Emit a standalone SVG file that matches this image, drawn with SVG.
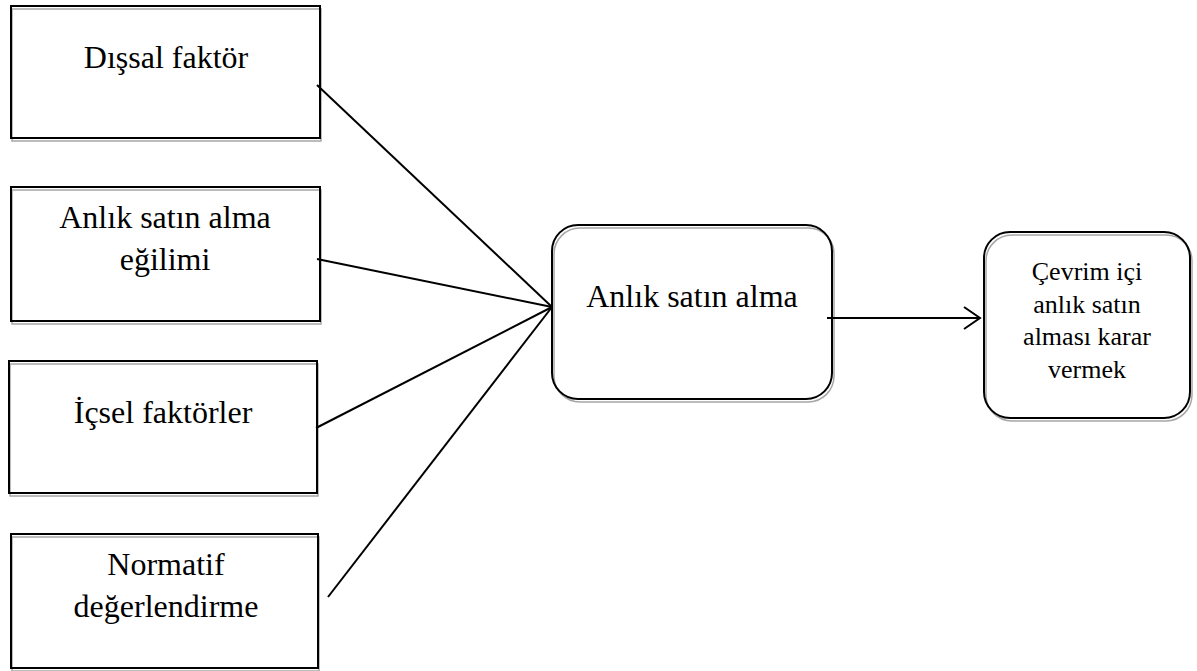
<svg xmlns="http://www.w3.org/2000/svg" width="1197" height="671" viewBox="0 0 1197 671">
  <style>
    .bg { fill: #ffffff; stroke: none; }
    .shade { fill: none; stroke: #a6a6a6; stroke-width: 1.5; }
    .frame { fill: none; stroke: #000000; stroke-width: 2; }
    .label { font-family: "Liberation Serif", "Times New Roman", serif; font-size: 32px; fill: #000000; text-anchor: middle; }
    .small { font-size: 26px; }
    .link { fill: none; stroke: #000000; stroke-width: 2; }
  </style>
  <defs>
    <marker id="openArrow" markerWidth="20" markerHeight="26" refX="17" refY="12" orient="auto" markerUnits="userSpaceOnUse">
      <path d="M1,1 L17,12 L1,23" fill="none" stroke="#000000" stroke-width="2"/>
    </marker>
  </defs>

  <rect width="1197" height="671" fill="#ffffff"/>

  <!-- input factor boxes -->
  <g id="dissal-faktor">
    <rect class="bg" x="11" y="6" width="309" height="132"/>
    <rect class="shade" x="12" y="9" width="309" height="132"/>
    <rect class="frame" x="11" y="6" width="309" height="132"/>
    <text class="label" x="166" y="68">Dışsal faktör</text>
  </g>

  <g id="anlik-egilimi">
    <rect class="bg" x="11" y="187" width="309" height="134"/>
    <rect class="shade" x="12" y="190" width="309" height="134"/>
    <rect class="frame" x="11" y="187" width="309" height="134"/>
    <text class="label" x="165" y="228">Anlık satın alma</text>
    <text class="label" x="165" y="270">eğilimi</text>
  </g>

  <g id="icsel-faktorler">
    <rect class="bg" x="9" y="361" width="308" height="132"/>
    <rect class="shade" x="10" y="364" width="308" height="132"/>
    <rect class="frame" x="9" y="361" width="308" height="132"/>
    <text class="label" x="163" y="423">İçsel faktörler</text>
  </g>

  <g id="normatif">
    <rect class="bg" x="11" y="534" width="307" height="134"/>
    <rect class="shade" x="12" y="537" width="307" height="134"/>
    <rect class="frame" x="11" y="534" width="307" height="134"/>
    <text class="label" x="166" y="575">Normatif</text>
    <text class="label" x="166" y="617">değerlendirme</text>
  </g>

  <!-- central and outcome boxes -->
  <g id="anlik-satin-alma">
    <rect class="bg" x="552" y="225" width="280" height="174" rx="26" ry="26"/>
    <rect class="shade" x="554" y="228" width="280" height="174" rx="26" ry="26"/>
    <rect class="frame" x="552" y="225" width="280" height="174" rx="26" ry="26"/>
    <text class="label" x="692" y="307">Anlık satın alma</text>
  </g>

  <g id="cevrimici-karar">
    <rect class="bg" x="984" y="232" width="206" height="186" rx="26" ry="26"/>
    <rect class="shade" x="986" y="235" width="206" height="186" rx="26" ry="26"/>
    <rect class="frame" x="984" y="232" width="206" height="186" rx="26" ry="26"/>
    <text class="label small" x="1087" y="280">Çevrim içi</text>
    <text class="label small" x="1087" y="313">anlık satın</text>
    <text class="label small" x="1087" y="345">alması karar</text>
    <text class="label small" x="1087" y="378">vermek</text>
  </g>

  <!-- connectors -->
  <g id="connectors">
    <line class="link" x1="317" y1="85" x2="552" y2="307"/>
    <line class="link" x1="317" y1="259" x2="552" y2="307"/>
    <line class="link" x1="316" y1="428" x2="552" y2="307"/>
    <line class="link" x1="328" y1="597" x2="552" y2="307"/>
    <line class="link" x1="827" y1="318" x2="980" y2="318" marker-end="url(#openArrow)"/>
  </g>
</svg>
